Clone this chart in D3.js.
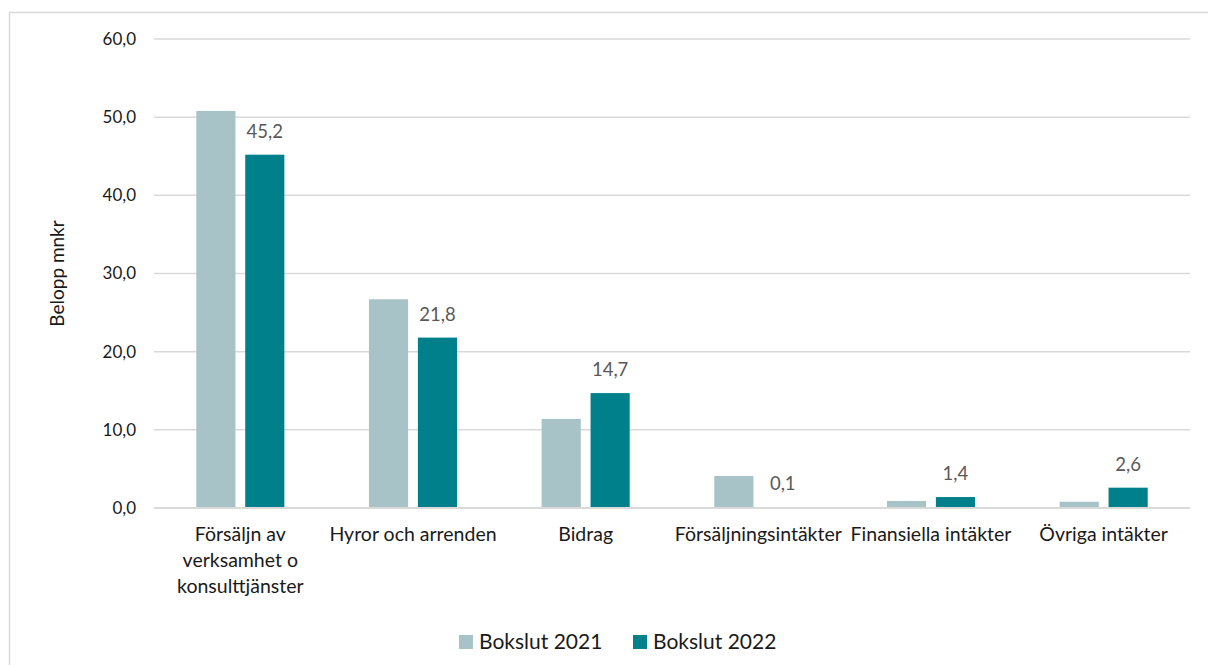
<!DOCTYPE html>
<html>
<head>
<meta charset="utf-8">
<script src="https://cdn.jsdelivr.net/npm/d3@7"></script>
<style>
  body { margin: 0; background: #fff; }
  svg { display: block; font-family: Lato, "Open Sans", sans-serif; }
</style>
</head>
<body>
<div id="chart"></div>
<script>
// setting up constants
const FRAME_WIDTH = 1208;
const FRAME_HEIGHT = 665;
const MARGINS = {left: 154, right: 18, top: 39, bottom: 157};

const VIS_WIDTH = FRAME_WIDTH - MARGINS.left - MARGINS.right;
const VIS_HEIGHT = FRAME_HEIGHT - MARGINS.top - MARGINS.bottom;

// data
const categories = [
  "Försäljn av\nverksamhet o\nkonsulttjänster",
  "Hyror och arrenden",
  "Bidrag",
  "Försäljningsintäkter",
  "Finansiella intäkter",
  "Övriga intäkter"
];
const series = ["Bokslut 2021", "Bokslut 2022"];
const bokslut2021 = [50.8, 26.7, 11.4, 4.1, 0.9, 0.8];
const bokslut2022 = [45.2, 21.8, 14.7, 0.1, 1.4, 2.6];
const yTicks = [0, 10, 20, 30, 40, 50, 60];
const colors = ["#a7c3c8", "#00808a"];

const data = categories.map((c, i) => ({
  cat: c,
  values: [bokslut2021[i], bokslut2022[i]]
}));

const FRAME = d3.select("#chart")
  .append("svg")
  .attr("width", FRAME_WIDTH)
  .attr("height", FRAME_HEIGHT);

// outer border (runs off the right and bottom edges)
FRAME.append("rect")
  .attr("x", 9.5)
  .attr("y", 12.5)
  .attr("width", FRAME_WIDTH + 10)
  .attr("height", FRAME_HEIGHT + 10)
  .attr("fill", "none")
  .attr("stroke", "#d9d9d9")
  .attr("stroke-width", 1.5);

const g = FRAME.append("g")
  .attr("transform", `translate(${MARGINS.left},${MARGINS.top})`);

// scales
const y = d3.scaleLinear()
  .domain([0, 60])
  .range([VIS_HEIGHT, 0]);

const x0 = d3.scaleBand()
  .domain(categories)
  .range([0, VIS_WIDTH])
  .paddingInner(0.49)
  .paddingOuter(0.245);

const x1 = d3.scaleBand()
  .domain(series)
  .range([0, x0.bandwidth()])
  .paddingInner(0.2);

// gridlines
g.append("g")
  .selectAll("line")
  .data(yTicks.filter(d => d > 0))
  .join("line")
    .attr("x1", 0)
    .attr("x2", VIS_WIDTH)
    .attr("y1", d => y(d))
    .attr("y2", d => y(d))
    .attr("stroke", "#d9d9d9")
    .attr("stroke-width", 1.5);

// y axis labels
const yAxis = g.append("g")
  .call(d3.axisLeft(y)
    .tickValues(yTicks)
    .tickSize(0)
    .tickPadding(18)
    .tickFormat(d => d3.format(".1f")(d).replace(".", ",")));
yAxis.select(".domain").remove();
yAxis.selectAll("text")
  .attr("font-family", "Lato, sans-serif")
  .attr("font-size", 17)
  .attr("fill", "#1a1a1a");

// y axis title
FRAME.append("text")
  .attr("transform", `translate(64,${MARGINS.top + VIS_HEIGHT / 2}) rotate(-90)`)
  .attr("text-anchor", "middle")
  .attr("font-size", 19)
  .attr("fill", "#1a1a1a")
  .text("Belopp mnkr");

// bars
const groups = g.selectAll(".group")
  .data(data)
  .join("g")
    .attr("class", "group")
    .attr("transform", d => `translate(${x0(d.cat)},0)`);

groups.selectAll("rect")
  .data(d => d.values.map((v, i) => ({key: series[i], value: v, i: i})))
  .join("rect")
    .attr("x", d => x1(d.key))
    .attr("y", d => y(d.value))
    .attr("width", x1.bandwidth())
    .attr("height", d => VIS_HEIGHT - y(d.value))
    .attr("fill", d => colors[d.i]);

// baseline on top of the bars
g.append("line")
  .attr("x1", 0)
  .attr("x2", VIS_WIDTH)
  .attr("y1", y(0))
  .attr("y2", y(0))
  .attr("stroke", "#d9d9d9")
  .attr("stroke-width", 2.2);

// data labels, 2022 only
groups.append("text")
  .attr("x", x1(series[1]) + x1.bandwidth() / 2)
  .attr("y", d => y(d.values[1]) - 17)
  .attr("text-anchor", "middle")
  .attr("font-size", 18.5)
  .attr("fill", "#595959")
  .text(d => d3.format(".1f")(d.values[1]).replace(".", ","));

// category labels
const catLabels = g.append("g")
  .selectAll("text")
  .data(categories)
  .join("text")
    .attr("x", d => x0(d) + x0.bandwidth() / 2)
    .attr("y", VIS_HEIGHT + 33)
    .attr("text-anchor", "middle")
    .attr("font-size", 19.5)
    .attr("fill", "#1a1a1a");

catLabels.selectAll("tspan")
  .data(d => d.split("\n"))
  .join("tspan")
    .attr("x", function() { return this.parentNode.getAttribute("x"); })
    .attr("dy", (d, i) => i === 0 ? 0 : 26)
    .text(d => d);

// legend
const legend = FRAME.append("g")
  .attr("transform", "translate(459,635)");

const legendX = [0, 174];
const items = legend.selectAll("g")
  .data(series)
  .join("g")
    .attr("transform", (d, i) => `translate(${legendX[i]},0)`);

items.append("rect")
  .attr("width", 14)
  .attr("height", 14)
  .attr("fill", (d, i) => colors[i]);

items.append("text")
  .attr("x", 20)
  .attr("y", 13.5)
  .attr("font-size", 21)
  .attr("fill", "#1a1a1a")
  .text(d => d);
</script>
</body>
</html>
